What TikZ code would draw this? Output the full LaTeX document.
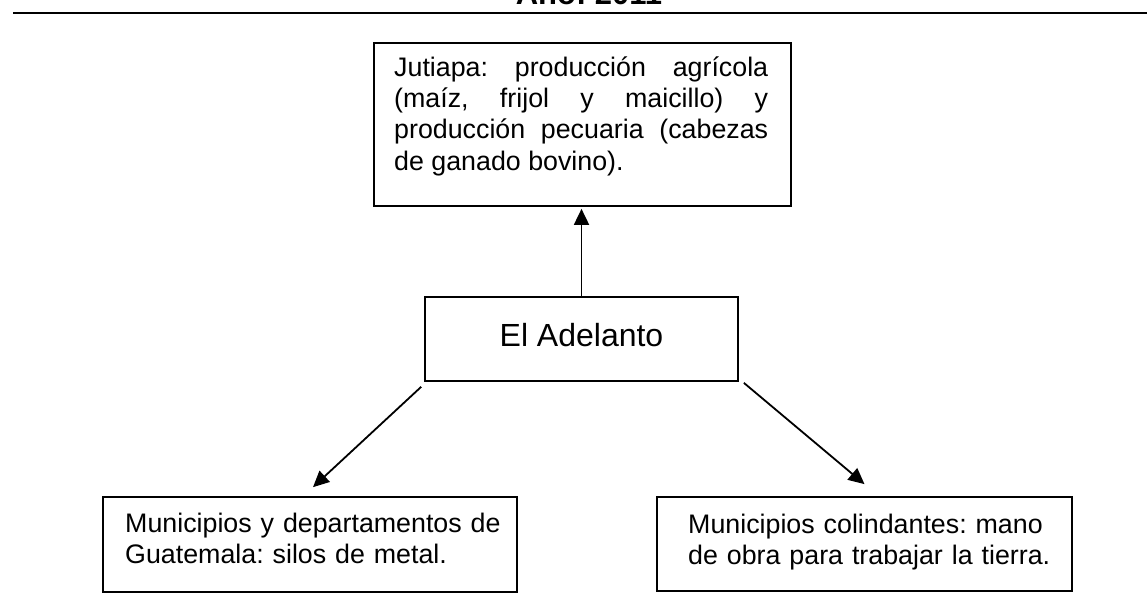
\documentclass[tikz,border=0pt]{standalone}
\usepackage{fontspec}
\setmainfont{Liberation Sans}
\usetikzlibrary{arrows.meta,calc}
\frenchspacing
\begin{document}
\begin{tikzpicture}[x=1pt,y=-1pt,
  box/.style={draw,line width=1.7pt,rectangle,inner sep=0pt},
  txt/.style={inner sep=0pt,anchor=base west,font=\frenchspacing\fontsize{26.8}{31}\selectfont},
  conn/.style={line width=1.8pt,-{Triangle[length=16pt,width=15pt]}}]
\useasboundingbox (0,0) rectangle (1147,594);
% title (cut off at top) and rule
\node[inner sep=0pt,anchor=base,font=\bfseries\fontsize{31}{36}\selectfont] (title) at (589,5) {Año: 2011};
\coordinate (ruleL) at (13,13);
\coordinate (ruleR) at (1147,13);
\draw[line width=2.7pt] (ruleL) -- (ruleR);
% boxes
\node[box,minimum width=417pt,minimum height=163pt] (top) at (582.5,124.5) {};
\node[box,minimum width=313pt,minimum height=84pt,font=\fontsize{32}{38}\selectfont,text height=23pt,text depth=9pt] (adel) at (581.5,339) {El Adelanto};
\node[box,minimum width=414pt,minimum height=95pt] (bl) at (310,544.5) {};
\node[box,minimum width=415pt,minimum height=94pt] (br) at (864.5,544) {};
% texts
\node[txt,text width=374pt,align=justify] (toptxt) at (394,77) {Jutiapa: producción agrícola\linebreak (maíz, frijol y maicillo) y\linebreak producción pecuaria (cabezas\linebreak de ganado bovino).};
\node[txt,text width=390pt,align=left] (bltxt) at (125,532) {Municipios y departamentos de\\Guatemala: silos de metal.};
\node[txt,text width=390pt,align=left] (brtxt) at (688,533) {Municipios colindantes: mano\\de obra para trabajar la tierra.};
% connectors
\draw[conn,shorten >=2pt] (adel.north) -- (adel.north |- top.south);
\draw[conn] ($(adel.south west)+(-3,5)$) -- ([xshift=3pt,yshift=9pt]bl.north);
\draw[conn] ($(adel.south east)+(5,1)$) -- ([yshift=12pt]br.north);
\end{tikzpicture}
\end{document}
